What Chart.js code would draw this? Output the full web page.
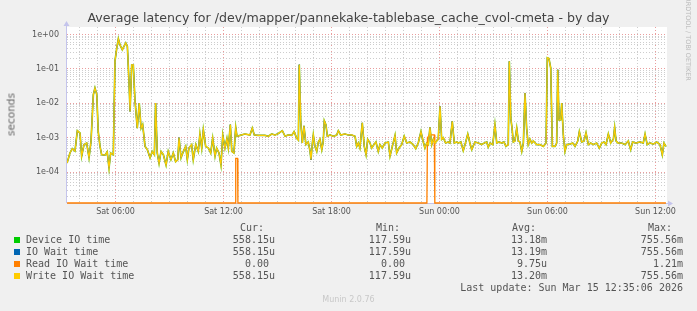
<!DOCTYPE html>
<html><head><meta charset="utf-8">
<script src="https://cdn.jsdelivr.net/npm/chart.js@4"></script>
<style>
html,body{margin:0;padding:0;background:#F0F0F0;}
#wrap{position:relative;width:697px;height:311px;overflow:hidden;background:#F0F0F0;}
canvas{position:absolute;left:0;top:0;}
.t{position:absolute;white-space:pre;font-weight:normal;}
.mono{font-family:"DejaVu Sans Mono",monospace;font-size:10px;color:#555;line-height:12px;height:12px;}
</style></head>
<body><div id="wrap"><canvas id="c" width="697" height="311"></canvas></div>
<script>
// ---- data (hours since Sat 00:00) ----
const times = [3.31,3.47,3.60,3.75,3.88,4.03,4.12,4.25,4.40,4.53,
4.64,4.77,4.86,4.96,5.04,5.14,5.23,5.42,5.54,5.64,
5.73,5.88,5.97,6.07,6.16,6.25,6.38,6.47,6.57,6.66,
6.75,6.81,6.90,6.99,7.08,7.21,7.32,7.42,7.51,7.64,
7.77,7.92,8.04,8.16,8.23,8.32,8.42,8.53,8.66,8.81,
8.93,9.08,9.21,9.34,9.46,9.53,9.64,9.77,9.90,9.99,
10.08,10.23,10.32,10.46,10.60,10.69,10.79,10.88,11.01,11.16,
11.29,11.40,11.53,11.62,11.75,11.86,11.96,12.08,12.19,12.27,
12.38,12.46,12.58,12.68,12.75,12.92,13.19,13.47,13.60,13.71,
13.93,14.31,14.49,14.68,14.86,15.03,15.27,15.42,15.60,15.79,
15.92,16.07,16.16,16.21,16.29,16.38,16.47,16.58,16.71,16.81,
16.86,16.93,16.99,17.08,17.18,17.27,17.36,17.46,17.54,17.60,
17.69,17.77,17.92,18.10,18.29,18.38,18.51,18.75,18.93,19.12,
19.31,19.40,19.49,19.58,19.71,19.82,19.92,20.01,20.14,20.23,
20.36,20.47,20.60,20.69,20.82,20.97,21.16,21.25,21.38,21.53,
21.62,21.75,21.90,22.04,22.18,22.36,22.54,22.68,22.82,22.97,
23.10,23.19,23.29,23.38,23.47,23.57,23.66,23.75,23.93,24.03,
24.12,24.21,24.34,24.49,24.58,24.71,24.82,24.96,25.04,25.19,
25.32,25.42,25.57,25.69,25.79,25.97,26.16,26.34,26.49,26.62,
26.71,26.81,26.96,27.08,27.18,27.31,27.46,27.58,27.69,27.82,
27.88,27.96,28.03,28.10,28.19,28.29,28.38,28.47,28.57,28.66,
28.75,28.84,28.93,29.03,29.12,29.21,29.40,29.58,29.77,29.92,
29.99,30.08,30.18,30.27,30.42,30.51,30.57,30.64,30.73,30.79,
30.88,30.97,31.07,31.25,31.40,31.53,31.68,31.77,31.90,32.03,
32.14,32.27,32.40,32.54,32.73,32.88,33.01,33.14,33.25,33.38,
33.51,33.66,33.73,33.81,33.93,34.12,34.31,34.49,34.62,34.73,
34.92,35.14,35.32,35.42,35.54,35.69,35.88,36.07,36.25,36.38,
36.47,36.58];

// Device IO time (seconds) - IO Wait and Write IO Wait read identical on the picture
const deviceIO = [1.84e-4,3.6e-4,4.8e-4,4.1e-4,1.6e-3,1.37e-3,2.9e-4,6.3e-4,7e-4,2.6e-4,
7.9e-4,1.78e-2,2.8e-2,1.8e-2,1.5e-3,5.6e-4,3.2e-4,3.1e-4,3.9e-4,1.3e-4,
3.6e-4,3.2e-4,0.166,0.40,0.75,0.50,0.36,0.45,0.57,0.45,
0.044,0.0058,0.13,0.13,0.0127,1.9e-3,0.0102,1.9e-3,2.4e-3,5.6e-4,
4.5e-4,2.6e-4,4.0e-4,3.2e-4,0.0102,3.6e-4,1.8e-4,4e-4,3.2e-4,1.6e-4,
4e-4,2.3e-4,3.6e-4,2.0e-4,2.3e-4,1.0e-3,2.6e-4,4e-4,5.6e-4,2.3e-4,
5e-4,6.3e-4,2.3e-4,6.3e-4,4e-4,1.28e-3,5e-4,1.7e-3,5.6e-4,5e-4,
3.6e-4,9.6e-4,2.9e-4,5e-4,3.6e-4,1.6e-4,1.2e-3,5e-4,9.6e-4,5e-4,
2.4e-3,4e-4,3.6e-4,2.0e-3,1.1e-3,1.17e-3,1.28e-3,1.2e-3,1.9e-3,1.2e-3,
1.17e-3,1.17e-3,1.1e-3,1.28e-3,1.2e-3,1.3e-3,1.6e-3,1.1e-3,1.2e-3,1.17e-3,
1.5e-3,9.6e-4,8.5e-4,0.133,3.0e-3,7e-4,2.2e-3,6.3e-4,7.5e-4,4e-4,
2.3e-4,6.3e-4,1.2e-3,5.6e-4,4e-4,7.5e-4,9e-4,4.5e-4,7.5e-4,3.1e-3,
2.4e-3,1.1e-3,1.2e-3,1.1e-3,1.2e-3,1.6e-3,1.2e-3,1.28e-3,1.2e-3,1.2e-3,
1.1e-3,5.6e-4,7e-4,5e-4,2.7e-3,5.6e-4,3.2e-4,9e-4,7e-4,5e-4,
6.3e-4,7.5e-4,4e-4,6.3e-4,5e-4,7e-4,7.5e-4,2.9e-4,5.6e-4,1.17e-3,
3.6e-4,5e-4,6.3e-4,1.1e-3,7e-4,7.5e-4,6.3e-4,4.8e-4,7e-4,1.5e-3,
7.5e-4,5e-4,7e-4,6.3e-4,2.0e-3,6.3e-4,9e-4,7e-4,9e-4,8.2e-3,
9e-4,1.0e-3,7e-4,7.5e-4,7e-4,3.0e-3,7e-4,7.5e-4,7e-4,7.5e-4,
4.2e-4,6.3e-4,1.28e-3,7e-4,4.5e-4,7.5e-4,7e-4,6.3e-4,7e-4,7.5e-4,
5.3e-4,7e-4,6.3e-4,2.4e-3,7e-4,7.5e-4,7e-4,7.5e-4,5.6e-4,6.3e-4,
0.166,3.7e-3,1.9e-3,7.5e-4,8e-4,1.9e-3,8e-4,7.5e-4,4e-4,7e-4,
0.02,1.9e-3,6.3e-4,9e-4,7e-4,8e-4,6.3e-4,6.3e-4,5.6e-4,7e-4,
0.21,0.2,0.106,5.6e-4,5.6e-4,7e-4,0.095,3.3e-3,3.3e-3,0.0102,
1.2e-3,4e-4,6.3e-4,6.5e-4,7e-4,5.6e-4,8e-4,1.5e-3,7.5e-4,8e-4,
1.4e-3,6.3e-4,7e-4,6.3e-4,7e-4,5e-4,7e-4,7.5e-4,6.3e-4,1.28e-3,
7e-4,9e-4,2e-3,8e-4,7e-4,7e-4,6.3e-4,8e-4,4.5e-4,7.5e-4,
7e-4,7.5e-4,7e-4,1.28e-3,6.3e-4,7e-4,6.5e-4,7.5e-4,6.3e-4,3.2e-4,
7e-4,5.58e-4];
const ioWait = deviceIO;
const writeIOWait = deviceIO;

const readTimes  = [3.31, 12.66, 12.68, 12.78, 12.80, 23.30, 23.33, 23.45, 23.71, 23.74, 36.58];
const readIOWait = [0,    0,     2.5e-4, 2.5e-4, 0,    0,     1.0e-3, 1.21e-3, 1.21e-3, 0, 0];

const xTickHours  = [6, 12, 18, 24, 30, 36];
const xTickLabels = ['Sat 06:00','Sat 12:00','Sat 18:00','Sun 00:00','Sun 06:00','Sun 12:00'];
const yTickValues = [1e-4, 1e-3, 1e-2, 1e-1, 1];
const yTickLabels = ['1e-04','1e-03','1e-02','1e-01','1e+00'];

const seriesNames  = ['Device IO time','IO Wait time','Read IO Wait time','Write IO Wait time'];
const seriesColors = ['#00CC00','#0066B3','#FF8000','#FFCC00'];
const curVals = ['558.15u','558.15u','0.00 ','558.15u'];
const minVals = ['117.59u','117.59u','0.00 ','117.59u'];
const avgVals = ['13.18m','13.19m','9.75u','13.20m'];
const maxVals = ['755.56m','755.56m','1.21m','755.56m'];

const X_MIN = 3.306, X_MAX = 36.639;
const Y_MIN = 1.264e-5, Y_MAX = 1.652;

// ---- text ----
const wrap = document.getElementById('wrap');
function txt(s, style, cls){ const d=document.createElement('div'); d.className='t '+(cls||''); d.textContent=s; Object.assign(d.style, style); wrap.appendChild(d); return d; }
txt('Average latency for /dev/mapper/pannekake-tablebase_cache_cvol-cmeta - by day',
  {left:'0px',width:'697px',textAlign:'center',top:'10px',font:'12.6px "DejaVu Sans"',color:'#444',lineHeight:'16px'});
txt('seconds',{left:'-19px',width:'60px',textAlign:'center',top:'108px',font:'10.5px "DejaVu Sans"',color:'#666',lineHeight:'13px',transform:'rotate(-90deg)'});
txt('RRDTOOL / TOBI OETIKER',{left:'638px',width:'100px',textAlign:'center',top:'35px',font:'6.5px "DejaVu Sans"',color:'#bbb',lineHeight:'8px',transform:'rotate(90deg)'});
txt('Munin 2.0.76',{left:'0px',width:'697px',textAlign:'center',top:'295px',font:'8px "DejaVu Sans"',color:'#c8c8c8',lineHeight:'10px'});
const colRight = [275, 411, 547, 683];
const hdrLeft = [240, 376, 512, 648];
['Cur:','Min:','Avg:','Max:'].forEach((h,i)=>txt(h,{left:hdrLeft[i]+'px',top:'222px'},'mono'));
seriesNames.forEach((n,i)=>{
  const y = 234 + i*12;
  const sq=document.createElement('div'); Object.assign(sq.style,{position:'absolute',left:'14px',top:(y+3)+'px',width:'6px',height:'6px',background:seriesColors[i]}); wrap.appendChild(sq);
  txt(n,{left:'26px',top:y+'px'},'mono');
  [curVals,minVals,avgVals,maxVals].forEach((arr,c)=>txt(arr[i],{right:(697-colRight[c])+'px',top:y+'px',textAlign:'right'},'mono'));
});
txt('Last update: Sun Mar 15 12:35:06 2026',{right:(697-683)+'px',top:'282px',textAlign:'right'},'mono');

// ---- chart ----
const mk = (xs, ys) => xs.map((x,i)=>({x, y: ys[i]}));
const MAJOR = 'rgba(230,140,140,0.85)', MINOR = 'rgba(200,200,200,0.9)';
const AXIS = '#C4C4EC';
const plugin = {
  id:'munin',
  beforeDraw(chart){
    const {ctx, chartArea:a} = chart;
    ctx.save(); ctx.fillStyle='#F0F0F0'; ctx.fillRect(0,0,chart.width,chart.height);
    ctx.fillStyle='#FFFFFF'; ctx.fillRect(a.left,a.top,a.right-a.left,a.bottom-a.top); ctx.restore();
  },
  beforeDatasetsDraw(chart){
    const {ctx, chartArea:a} = chart;
    ctx.save(); ctx.strokeStyle=AXIS; ctx.fillStyle=AXIS; ctx.lineWidth=1;
    ctx.beginPath(); ctx.moveTo(a.left-0.5, a.top-3); ctx.lineTo(a.left-0.5, a.bottom); ctx.stroke();
    ctx.beginPath(); ctx.moveTo(a.left, a.bottom+0.5); ctx.lineTo(a.right+3, a.bottom+0.5); ctx.stroke();
    ctx.beginPath(); ctx.moveTo(a.left-3.5, a.top-1); ctx.lineTo(a.left+2.5, a.top-1); ctx.lineTo(a.left-0.5, a.top-6); ctx.closePath(); ctx.fill();
    ctx.beginPath(); ctx.moveTo(a.right+1, a.bottom-2.5); ctx.lineTo(a.right+1, a.bottom+3.5); ctx.lineTo(a.right+6, a.bottom+0.5); ctx.closePath(); ctx.fill();
    ctx.restore();
  }
};
const base = {fill:false, pointRadius:0, tension:0, spanGaps:false};
new Chart(document.getElementById('c'), {
  type:'line',
  data:{datasets:[
    Object.assign({label:seriesNames[3], data:mk(times, writeIOWait), borderColor:seriesColors[3], borderWidth:1.25, order:0}, base),
    Object.assign({label:seriesNames[2], data:mk(readTimes, readIOWait.map(v=>v>0?v:Y_MIN)), borderColor:seriesColors[2], borderWidth:1.3, order:1, clip:{left:0,top:0,right:0,bottom:2}}, base),
    Object.assign({label:seriesNames[1], data:mk(times, ioWait), borderColor:seriesColors[1], borderWidth:1, order:2}, base),
    Object.assign({label:seriesNames[0], data:mk(times, deviceIO), borderColor:'rgba(80,190,20,0.85)', borderWidth:1.7, order:3}, base),
  ]},
  options:{
    responsive:false, animation:false, devicePixelRatio:1,
    layout:{padding:{left:0,right:30,top:27,bottom:88}},
    plugins:{legend:{display:false}, tooltip:{enabled:false}, title:{display:false}},
    scales:{
      x:{type:'linear', min:X_MIN, max:X_MAX,
        afterFit:s=>{s.height=20;},
        afterBuildTicks:s=>{const t=[]; for(let h=Math.ceil(X_MIN); h<=Math.floor(X_MAX); h++) t.push({value:h}); s.ticks=t;},
        ticks:{autoSkip:false, maxRotation:0, padding:4, color:'#555', font:{family:'DejaVu Sans', size:8},
          callback:v=>{const k=xTickHours.indexOf(v); return k>=0?xTickLabels[k]:'';}},
        grid:{drawTicks:false, color:c=>(c.tick && c.tick.value%6===0)?MAJOR:MINOR, lineWidth:1},
        border:{display:false, dash:[1,2]}
      },
      y:{type:'logarithmic', min:Y_MIN, max:Y_MAX,
        afterFit:s=>{s.width=67;},
        afterBuildTicks:s=>{const t=[]; for(let e=-5;e<=0;e++){for(let m=1;m<=9;m++){const v=m*Math.pow(10,e); if(v>=Y_MIN&&v<=Y_MAX) t.push({value:v});}} s.ticks=t;},
        ticks:{autoSkip:false, padding:8, color:'#555', font:{family:'DejaVu Sans', size:8},
          callback:v=>{const k=yTickValues.findIndex(d=>Math.abs(d-v)/d<1e-6); return k>=0?yTickLabels[k]:'';}},
        grid:{drawTicks:false, color:c=>{const v=c.tick?c.tick.value:0; const m=v/Math.pow(10,Math.floor(Math.log10(v)+1e-9)); return Math.abs(m-1)<1e-6?MAJOR:MINOR;}, lineWidth:1},
        border:{display:false, dash:[1,2]}
      }
    }
  },
  plugins:[plugin]
});
</script>
</body></html>
